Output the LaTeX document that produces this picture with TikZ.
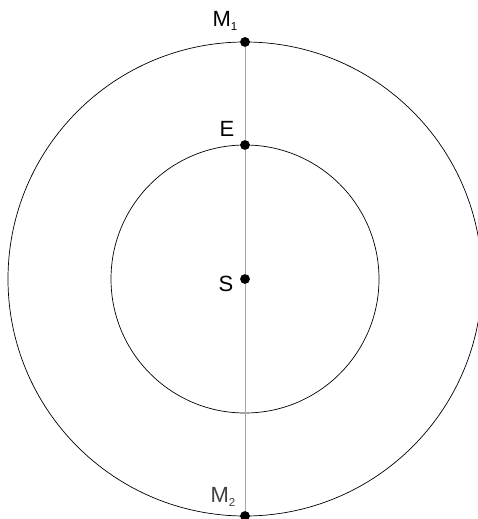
\documentclass[tikz,border=0pt]{standalone}
\usepackage{fontspec}
\setmainfont{Liberation Sans}
\newcommand{\lsub}[1]{\raisebox{-4pt}{\fontsize{11.5}{12}\selectfont #1}}
\begin{document}
\begin{tikzpicture}[x=1pt,y=-1pt,
  orbit/.style={draw=black,line width=0.7pt},
  axis/.style={draw=black!35,line width=0.9pt},
  pt/.style={circle,fill=black,inner sep=0pt,minimum size=9.5pt},
  lab/.style={font=\fontsize{22}{24}\selectfont,inner sep=0pt,anchor=base}]
\useasboundingbox (0,0) rectangle (478,519);
\begin{scope}
\clip (0,0) rectangle (478,519);
\coordinate (S) at (245,279);
\draw[orbit] (S) circle[radius=237];
\draw[orbit] (S) circle[radius=134];
\node[pt] (m1) at (245,42) {};
\node[pt] (e) at (245,145) {};
\node[pt] (s) at (245,279) {};
\node[pt] (m2) at (245,516) {};
\draw[axis] (m1) -- (m2);
\node[pt] at (245,42) {};
\node[pt] at (245,145) {};
\node[pt] at (245,279) {};
\node[pt] at (245,516) {};
\end{scope}
\node[lab] (lm1) at (225,27) {M\lsub{1}};
\node[lab] (le) at (227,136) {E};
\node[lab] (ls) at (226,291) {S};
\node[lab,text=black!75] (lm2) at (223,502) {M\lsub{2}};
\end{tikzpicture}
\end{document}
